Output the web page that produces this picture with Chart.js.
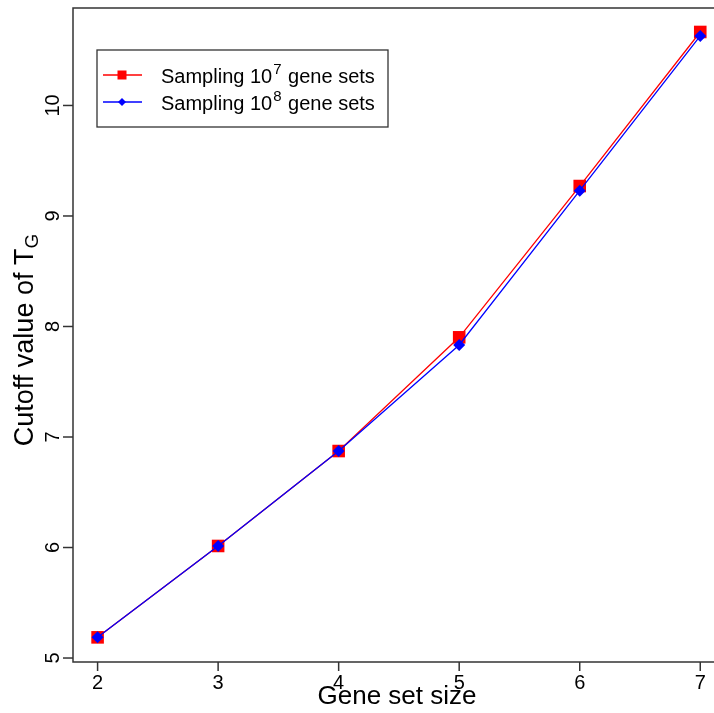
<!DOCTYPE html>
<html>
<head>
<meta charset="utf-8">
<script src="https://cdn.jsdelivr.net/npm/chart.js@4/dist/chart.umd.min.js"></script>
<style>
    body { margin: 0; background: #ffffff; }
    canvas { display: block; }
</style>
</head>
<body>
<canvas id="chart" width="714" height="713"></canvas>
<script>
'use strict';

// Data
const geneSetSizes = [2, 3, 4, 5, 6, 7];
const cutoff1e7 = [5.187, 6.014, 6.873, 7.902, 9.271, 10.665];
const cutoff1e8 = [5.187, 6.014, 6.873, 7.833, 9.229, 10.629];
const xTicks = [2, 3, 4, 5, 6, 7];
const yTicks = [5, 6, 7, 8, 9, 10];
const seriesLabels = ["7", "8"];

const FONT = "'Liberation Sans', Arial, sans-serif";
const AXIS_COLOR = "#333333";

// Build point list
function toPoints(xs, ys) {
    let pts = [];
    for (let i = 0; i < xs.length; i++) {
        pts.push({ x: xs[i], y: ys[i] });
    }
    return pts;
}

// R style axes, titles and legend
const basePlotPlugin = {
    id: 'basePlot',
    afterDraw(chart) {
        const ctx = chart.ctx;
        const area = chart.chartArea;
        const xs = chart.scales.x;
        const ys = chart.scales.y;

        ctx.save();
        ctx.strokeStyle = AXIS_COLOR;
        ctx.fillStyle = "#000000";
        ctx.lineWidth = 1.5;

        // Box (right side falls off the canvas)
        ctx.beginPath();
        ctx.moveTo(chart.width, area.top);
        ctx.lineTo(area.left, area.top);
        ctx.lineTo(area.left, area.bottom);
        ctx.lineTo(chart.width, area.bottom);
        ctx.stroke();

        // X ticks
        ctx.font = "20px " + FONT;
        ctx.textAlign = "center";
        ctx.textBaseline = "middle";
        for (let i = 0; i < xTicks.length; i++) {
            let px = xs.getPixelForValue(xTicks[i]);
            ctx.beginPath();
            ctx.moveTo(px, area.bottom);
            ctx.lineTo(px, area.bottom + 9);
            ctx.stroke();
            ctx.fillText(String(xTicks[i]), px, 683);
        }

        // Y ticks, labels turned like R's default
        for (let i = 0; i < yTicks.length; i++) {
            let py = ys.getPixelForValue(yTicks[i]);
            ctx.beginPath();
            ctx.moveTo(area.left - 10, py);
            ctx.lineTo(area.left, py);
            ctx.stroke();
            ctx.save();
            ctx.translate(53, py);
            ctx.rotate(-Math.PI / 2);
            ctx.fillText(String(yTicks[i]), 0, 0);
            ctx.restore();
        }

        // X title
        ctx.font = "26px " + FONT;
        ctx.textBaseline = "alphabetic";
        ctx.fillText("Gene set size", 397, 704);

        // Y title with subscript G
        ctx.save();
        ctx.translate(33, 340);
        ctx.rotate(-Math.PI / 2);
        ctx.textAlign = "left";
        ctx.font = "27px " + FONT;
        const mainText = "Cutoff value of T";
        let wMain = ctx.measureText(mainText).width;
        ctx.font = "19px " + FONT;
        let wSub = ctx.measureText("G").width;
        let start = -(wMain + wSub) / 2;
        ctx.font = "27px " + FONT;
        ctx.fillText(mainText, start, 0);
        ctx.font = "19px " + FONT;
        ctx.fillText("G", start + wMain, 5);
        ctx.restore();

        // Legend
        ctx.lineWidth = 1.3;
        ctx.strokeRect(97, 50, 291, 77);
        const rows = [75, 102];
        for (let i = 0; i < chart.data.datasets.length; i++) {
            let ds = chart.data.datasets[i];
            let y = rows[i];
            ctx.strokeStyle = ds.borderColor;
            ctx.lineWidth = 1.3;
            ctx.beginPath();
            ctx.moveTo(103, y);
            ctx.lineTo(142, y);
            ctx.stroke();
            ctx.fillStyle = ds.pointBackgroundColor;
            if (ds.pointStyle === 'rect') {
                ctx.fillRect(122 - 4.5, y - 4.5, 9, 9);
            } else {
                ctx.beginPath();
                ctx.moveTo(122 - 4, y);
                ctx.lineTo(122, y - 4);
                ctx.lineTo(122 + 4, y);
                ctx.lineTo(122, y + 4);
                ctx.closePath();
                ctx.fill();
            }

            // Label text with power of ten
            ctx.fillStyle = "#000000";
            ctx.textAlign = "left";
            ctx.textBaseline = "alphabetic";
            let tx = 161;
            let base = y + 8;
            ctx.font = "20px " + FONT;
            ctx.fillText("Sampling 10", tx, base);
            tx += ctx.measureText("Sampling 10").width;
            ctx.font = "15px " + FONT;
            ctx.fillText(seriesLabels[i], tx + 1, base - 9);
            tx += ctx.measureText(seriesLabels[i]).width + 2;
            ctx.font = "20px " + FONT;
            ctx.fillText(" gene sets", tx, base);
        }
        ctx.restore();
    }
};

const chart = new Chart(document.getElementById('chart').getContext('2d'), {
    type: 'line',
    data: {
        datasets: [{
            label: 'Sampling 10^7 gene sets',
            data: toPoints(geneSetSizes, cutoff1e7),
            borderColor: '#ff0000',
            backgroundColor: '#ff0000',
            pointBackgroundColor: '#ff0000',
            pointBorderWidth: 0,
            pointStyle: 'rect',
            pointRadius: 8.9,
            borderWidth: 1.3,
            tension: 0,
            order: 2
        }, {
            label: 'Sampling 10^8 gene sets',
            data: toPoints(geneSetSizes, cutoff1e8),
            borderColor: '#0000ff',
            backgroundColor: '#0000ff',
            pointBackgroundColor: '#0000ff',
            pointBorderWidth: 0,
            pointStyle: 'rectRot',
            pointRadius: 6,
            borderWidth: 1.3,
            tension: 0,
            order: 1
        }]
    },
    options: {
        responsive: false,
        animation: false,
        layout: {
            autoPadding: false,
            padding: { left: 73, top: 8, right: 0, bottom: 51 }
        },
        plugins: {
            legend: { display: false },
            tooltip: { enabled: false }
        },
        scales: {
            x: {
                type: 'linear',
                display: false,
                min: 1.796,
                max: 7.114
            },
            y: {
                type: 'linear',
                display: false,
                min: 4.964,
                max: 10.882
            }
        }
    },
    plugins: [basePlotPlugin]
});
</script>
</body>
</html>
